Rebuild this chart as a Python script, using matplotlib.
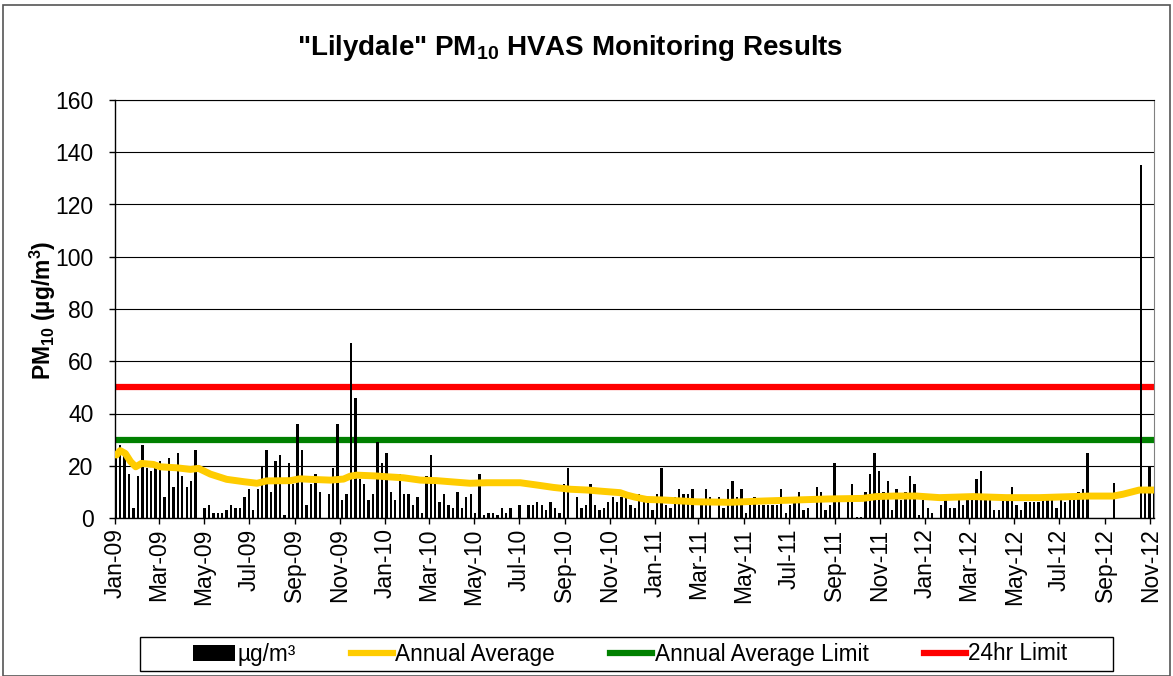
import matplotlib
matplotlib.use('Agg')
import matplotlib.pyplot as plt
import matplotlib.dates as mdates
from matplotlib.patches import Rectangle, Patch
from matplotlib.lines import Line2D
import numpy as np
import pandas as pd

plt.rcParams['font.family'] = ['Liberation Sans', 'DejaVu Sans']
plt.rcParams['mathtext.fontset'] = 'custom'
plt.rcParams['mathtext.rm'] = 'Liberation Sans'
plt.rcParams['mathtext.it'] = 'Liberation Sans:italic'
plt.rcParams['mathtext.bf'] = 'Liberation Sans:bold'

nan = np.nan

# HVAS samples, one every 6 days from the first run day
first_sample = '2009-01-02'
pm10 = [
    23, 28, 24, 17, 4, 16, 28, 19, 18, 19,
    22, 8, 23, 12, 25, 16, 12, 14, 26, nan,
    4, 5, 2, 2, 2, 3, 5, 4, 4, 8,
    11, 3, 11, 20, 26, 10, 22, 24, 1, 21,
    13, 36, 26, 5, 13, 17, 10, nan, 9, 19,
    36, 7, 9, 67, 46, 15, 13, 7, 9, 29,
    21, 25, 10, 7, 17, 9, 9, 5, 8, 2,
    16, 24, 15, 6, 9, 5, 4, 10, 4, 8,
    9, 2, 17, 1, 2, 2, 1, 4, 2, 4,
    nan, 5, nan, 5, 5, 6, 5, 3, 6, 4,
    2, 13, 19, nan, 8, 4, 5, 13, 5, 3,
    4, 6, 8, 6, 8, 10, 5, 4, 9, 6,
    6, 3, 9, 19, 5, 4, 8, 11, 9, 9,
    11, nan, 5, 11, 8, nan, 8, 4, 11, 14,
    8, 11, 2, 5, 8, 5, 5, 5, 5, 5,
    11, 2, 5, 6, 10, 3, 4, nan, 12, 10,
    3, 5, 21, 7, nan, 6, 13, 0.5, 0.5, 10,
    17, 25, 18, 10, 14, 3, 11, 7, 10, 16,
    13, 1, 7, 4, 2, nan, 5, 7, 4, 4,
    7, 5, 7, 7, 15, 18, 7, 7, 3, 3,
    7, 7, 12, 5, 3, 6, 6, 6, 6, 7,
    7, 7, 4, 7, 6, 9, 9, 10, 11, 25,
    nan, nan, nan, nan, nan, 13.5, nan, nan, nan, nan,
    nan, 135, 10, 20, 10,
]

# rolling annual average
avg_dates = ['2009-01-03', '2009-01-08', '2009-01-15', '2009-01-22', '2009-01-29',
             '2009-02-06', '2009-02-22', '2009-03-03', '2009-03-26', '2009-04-13',
             '2009-04-24', '2009-05-10', '2009-06-01', '2009-06-24', '2009-07-12',
             '2009-07-25', '2009-08-26', '2009-09-08', '2009-09-22', '2009-10-19',
             '2009-11-06', '2009-11-15', '2009-11-24', '2009-12-19',
             '2010-01-03', '2010-01-26', '2010-02-18', '2010-03-12', '2010-04-03',
             '2010-04-26', '2010-05-19', '2010-07-03', '2010-07-26', '2010-08-17',
             '2010-09-09', '2010-10-02', '2010-10-23', '2010-11-15', '2010-11-24',
             '2010-12-05', '2010-12-21',
             '2011-01-12', '2011-02-26', '2011-04-12', '2011-05-27', '2011-07-11',
             '2011-08-25', '2011-10-09', '2011-10-27', '2011-11-21', '2011-12-21',
             '2012-01-21', '2012-03-06', '2012-04-20', '2012-06-04', '2012-07-19',
             '2012-08-11', '2012-09-12', '2012-09-25', '2012-10-17', '2012-11-06']
avg_vals = [24.1, 25.8, 24.7, 21.6, 19.6, 20.9, 20.5, 19.6, 19.2, 18.6,
            19.0, 16.8, 14.8, 13.9, 13.3, 14.2, 14.3, 15.0, 14.8, 14.5,
            14.9, 16.0, 16.4, 16.1,
            15.8, 15.4, 14.5, 14.3, 13.8, 13.3, 13.5, 13.5, 12.6, 11.7,
            11.0, 10.7, 10.2, 9.7, 8.8, 8.0, 7.1,
            6.9, 6.2, 6.0, 6.5, 6.9, 7.3, 7.5, 8.2, 8.4, 8.4,
            7.8, 8.2, 7.8, 7.8, 8.2, 8.4, 8.4, 9.1, 10.7, 10.7]

limit_annual = 30
limit_24hr = 50

labels = ['µg/m³', 'Annual Average', 'Annual Average Limit', '24hr Limit']

dates = pd.date_range(first_sample, periods=len(pm10), freq='6D')
adates = pd.to_datetime(avg_dates)

fig = plt.figure(figsize=(11.73, 6.76), dpi=100)
ax = fig.add_axes([115/1173, 1-518/676, (1154-115)/1173, (518-100)/676])

ax.axhline(limit_annual, color='#008000', lw=4.5, zorder=2)
ax.axhline(limit_24hr, color='#FF0000', lw=4.5, zorder=2)
ax.bar(dates, pm10, width=3.2, color='black', zorder=3)
ax.plot(adates, avg_vals, color='#FFCC00', lw=5, zorder=4, solid_capstyle='round')

ax.set_ylim(0, 160)
ax.set_yticks(np.arange(0, 161, 20))
ax.set_xlim(pd.Timestamp('2009-01-01'), dates[-1])
ax.xaxis.set_major_locator(mdates.MonthLocator(bymonth=[1, 3, 5, 7, 9, 11]))
ax.xaxis.set_major_formatter(mdates.DateFormatter('%b-%y'))
ax.yaxis.grid(True, color='black', lw=0.8)
ax.set_axisbelow(True)
ax.tick_params(axis='both', direction='out', length=4.5, width=1, labelsize=16.5)
ax.tick_params(axis='y', pad=11)
ax.tick_params(axis='x', labelrotation=90, pad=3)
for s in ['left', 'bottom']:
    ax.spines[s].set_linewidth(1)
ax.spines['right'].set_color('#808080')
ax.spines['top'].set_color('black')

fig.text(570/1173, 1-48/676, r'"Lilydale" PM$_\mathbf{10}$ HVAS Monitoring Results',
         ha='center', va='center', fontsize=20, fontweight='bold')
fig.text(43/1173, 1-310/676, r'PM$_\mathbf{10}$ (µg/m$^\mathbf{3}$)', rotation=90,
         ha='center', va='center', fontsize=16.5, fontweight='bold')

# legend with its own box
handles = [Patch(facecolor='black'),
           Line2D([], [], color='#FFCC00', lw=4.5),
           Line2D([], [], color='#008000', lw=4.5),
           Line2D([], [], color='#FF0000', lw=4.5)]
fig.legend(handles, labels, loc='center', bbox_to_anchor=(630/1173, 1-654/676), ncol=4,
           frameon=False, fontsize=16.3, handlelength=1.85, handletextpad=0.1,
           columnspacing=2.45)
fig.patches.append(Rectangle((140/1173, 1-671/676), (1113-140)/1173, 34/676,
                             transform=fig.transFigure, fill=False, ec='black', lw=1))
fig.patches.append(Rectangle((3/1173, 0.5/676), 1167/1173, 671/676,
                             transform=fig.transFigure, fill=False, ec='#555555', lw=1.2))

fig.savefig('out.png', dpi=100)
